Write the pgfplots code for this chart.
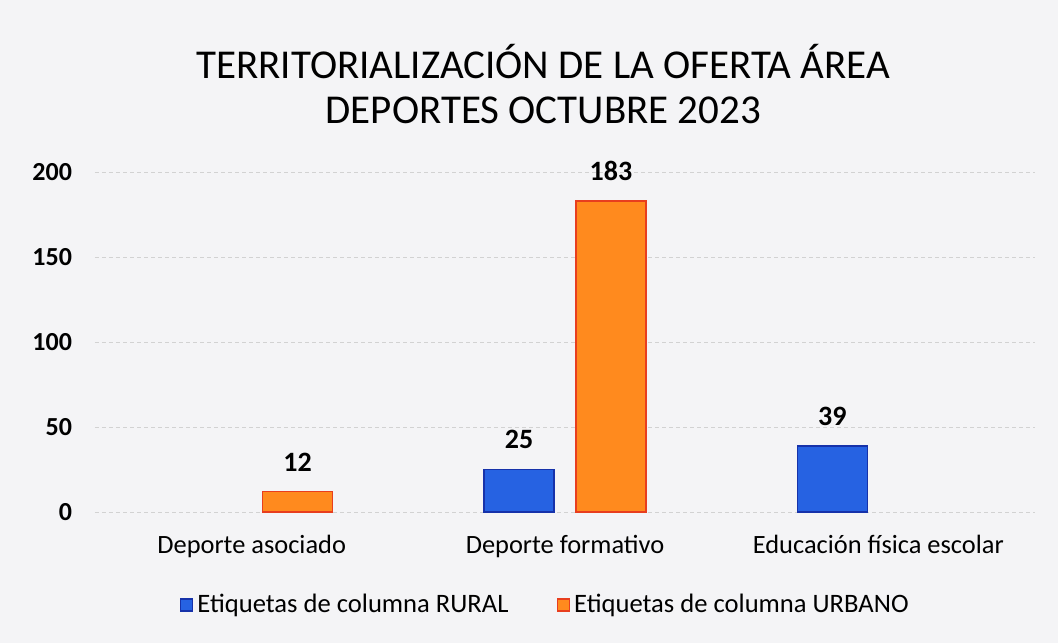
\documentclass[border=0pt]{standalone}
\usepackage{pgfplots}
\pgfplotsset{compat=1.18}
\usepackage{fontspec}
\setmainfont{Carlito}
\usetikzlibrary{calc,backgrounds}
\definecolor{bg}{RGB}{244,244,246}
\definecolor{rural}{RGB}{38,98,226}
\definecolor{ruraledge}{RGB}{22,50,170}
\definecolor{urbano}{RGB}{255,138,30}
\definecolor{urbanoedge}{RGB}{232,62,30}
\begin{document}
\begin{tikzpicture}
\begin{axis}[
  name=ax,
  scale only axis,
  width=470pt, height=170pt,
  ybar=11pt, bar width=35pt,
  xmin=-0.5, xmax=2.5,
  ymin=0, ymax=200,
  xtick={0,1,2},
  xticklabels={Deporte asociado, Deporte formativo, Educación física escolar},
  ytick={0,50,100,150,200},
  /pgf/number format/assume math mode=true,
  yticklabel style={font=\fontsize{13}{15}\selectfont\bfseries, xshift=-8pt},
  xticklabel style={font=\fontsize{13.2}{15}\selectfont, yshift=-8pt},
  axis line style={draw=none},
  major tick length=0pt,
  ymajorgrids,
  grid style={gray!35, dash pattern=on 2pt off 1.5pt, line width=0.4pt},
  nodes near coords,
  every node near coord/.append style={font=\fontsize{14}{16}\selectfont\bfseries, yshift=6.5pt, text=black},
  title={TERRITORIALIZACIÓN DE LA OFERTA ÁREA\\DEPORTES OCTUBRE 2023},
  title style={font=\fontsize{20.5}{22.5}\selectfont, align=center, at={(axis description cs:0.477,1.222)}, anchor=center},
  legend columns=2,
  legend style={draw=none, fill=none, font=\fontsize{13.3}{15}\selectfont, at={(axis description cs:0.48,-0.274)}, anchor=center, /tikz/every even column/.append style={column sep=22pt}},
  legend image code/.code={\fill[#1] (0pt,-3pt) rectangle (6pt,3pt);},
]
\addplot[fill=rural, draw=ruraledge, line width=0.8pt] coordinates {(1,25) (2,39)};
\addplot[fill=urbano, draw=urbanoedge, line width=0.8pt] coordinates {(0,12) (1,183)};
\legend{Etiquetas de columna RURAL, Etiquetas de columna URBANO}
\end{axis}
\begin{scope}[on background layer]
\fill[bg] ($(ax.south west)+(-47.5pt,-65.5pt)$) rectangle ($(ax.south west)+(481.5pt,256pt)$);
\end{scope}
\end{tikzpicture}
\end{document}
